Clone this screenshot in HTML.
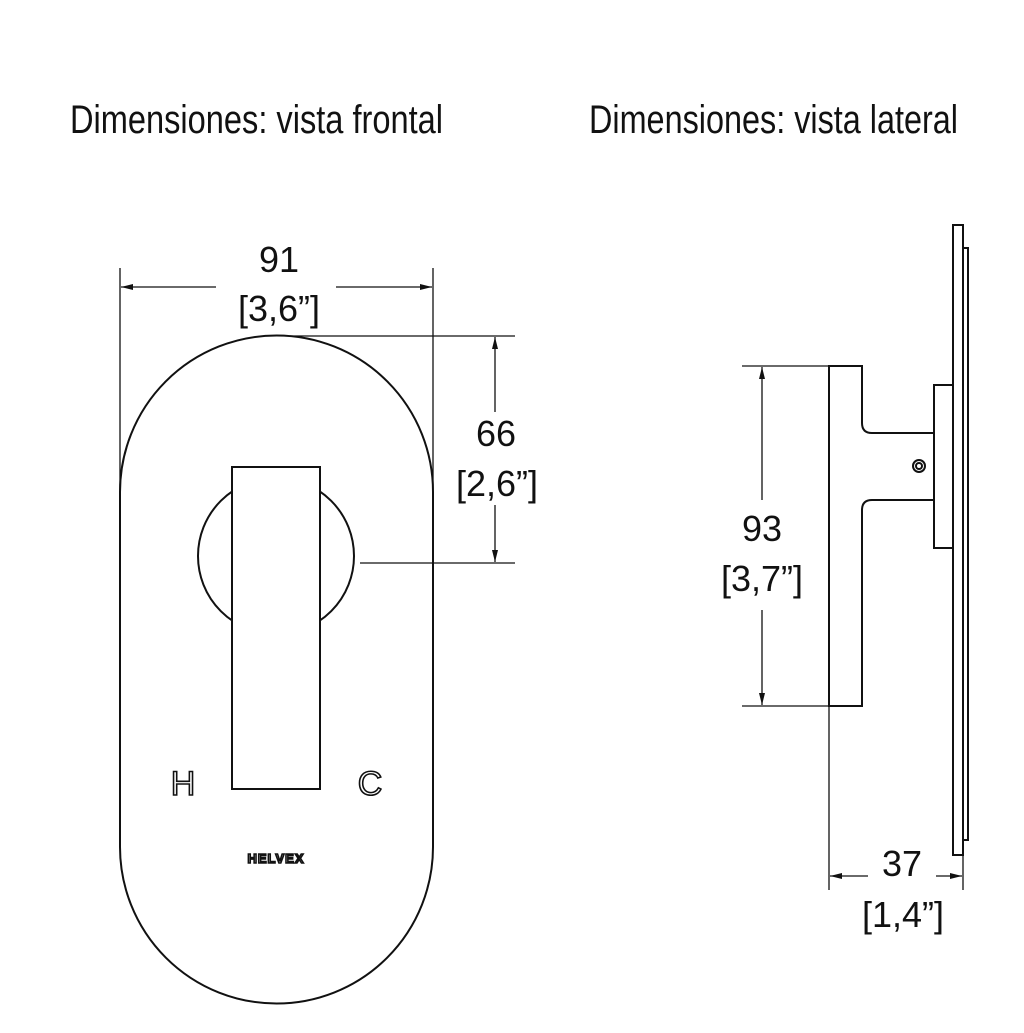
<!DOCTYPE html>
<html><head><style>html,body{margin:0;padding:0;background:#fff}</style></head>
<body>
<svg width="1024" height="1028" viewBox="0 0 1024 1028" xmlns="http://www.w3.org/2000/svg">
<defs>
<marker id="a" viewBox="0 0 12 6" refX="12" refY="3" markerWidth="12" markerHeight="6" orient="auto" markerUnits="userSpaceOnUse"><path d="M0,0 L12,3 L0,6 z" fill="#111"/></marker>
</defs>
<g font-family="Liberation Sans, sans-serif" fill="#111">
<text x="70" y="133" font-size="40" textLength="373" lengthAdjust="spacingAndGlyphs">Dimensiones: vista frontal</text>
<text x="589" y="133" font-size="40" textLength="369" lengthAdjust="spacingAndGlyphs">Dimensiones: vista lateral</text>
<g font-size="36" text-anchor="middle">
<text x="279" y="272">91</text>
<text x="279" y="321">[3,6”]</text>
<text x="496" y="446">66</text>
<text x="497" y="496">[2,6”]</text>
<text x="762" y="541">93</text>
<text x="762" y="591">[3,7”]</text>
<text x="902" y="876">37</text>
<text x="903" y="927">[1,4”]</text>
</g>
</g>
<g stroke="#111" stroke-width="2" fill="none">
<path d="M120,492 A156.5,156.5 0 0 1 433,492 L433,847 A156.5,156.5 0 0 1 120,847 Z"/>
<circle cx="276" cy="556" r="78"/>
<rect x="232" y="467" width="88" height="322" fill="#fff"/>
<line x1="120" y1="268" x2="120" y2="490" stroke-width="1.3"/>
<line x1="433" y1="268" x2="433" y2="490" stroke-width="1.3"/>
<line x1="216" y1="287" x2="121" y2="287" stroke-width="1.3" marker-end="url(#a)"/>
<line x1="336" y1="287" x2="432" y2="287" stroke-width="1.3" marker-end="url(#a)"/>
<line x1="290" y1="336" x2="515" y2="336" stroke-width="1.3"/>
<line x1="360" y1="563" x2="515" y2="563" stroke-width="1.3"/>
<line x1="495" y1="412" x2="495" y2="337" stroke-width="1.3" marker-end="url(#a)"/>
<line x1="495" y1="505" x2="495" y2="562" stroke-width="1.3" marker-end="url(#a)"/>
<path d="M953,225 L963,225 L963,855 L953,855 Z"/>
<path d="M963,248 L968,248 L968,840 L963,840"/>
<rect x="934" y="385" width="19" height="163"/>
<path d="M934,433 L872,433 Q862,433 862,423 L862,366 L829,366 L829,706 L862,706 L862,510 Q862,500 872,500 L934,500"/>
<circle cx="919" cy="466" r="6"/>
<circle cx="919" cy="466" r="3"/>
<line x1="742" y1="366" x2="828" y2="366" stroke-width="1.3"/>
<line x1="742" y1="706" x2="828" y2="706" stroke-width="1.3"/>
<line x1="762" y1="500" x2="762" y2="367" stroke-width="1.3" marker-end="url(#a)"/>
<line x1="762" y1="610" x2="762" y2="705" stroke-width="1.3" marker-end="url(#a)"/>
<line x1="829" y1="706" x2="829" y2="890" stroke-width="1.3"/>
<line x1="963" y1="855" x2="963" y2="890" stroke-width="1.3"/>
<line x1="868" y1="876" x2="830" y2="876" stroke-width="1.3" marker-end="url(#a)"/>
<line x1="936" y1="876" x2="962" y2="876" stroke-width="1.3" marker-end="url(#a)"/>
</g>
<g font-family="Liberation Sans, sans-serif" fill="#fff" stroke="#111" stroke-width="1.6" text-anchor="middle">
<text x="183" y="795" font-size="34">H</text>
<text x="370" y="795" font-size="34">C</text>
<text x="276" y="863" font-size="13" font-weight="bold" letter-spacing="1">HELVEX</text>
</g>
</svg>
</body></html>
